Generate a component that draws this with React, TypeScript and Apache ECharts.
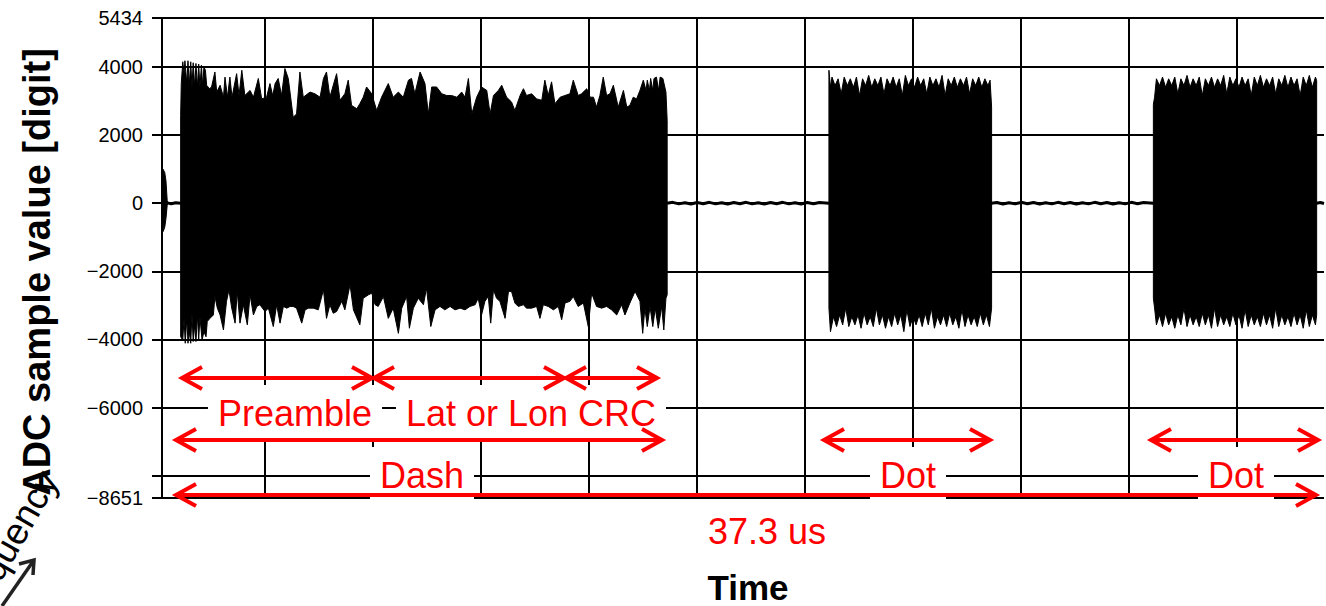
import React, { useEffect, useRef } from 'react';
import * as echarts from 'echarts';

type Pt = [number, number];

// ---- axis ticks (µs for x, ADC digits for y) ----
const yTickValues = [5434, 4000, 2000, 0, -2000, -4000, -6000, -8000, -8651];
const yLabelValues = [5434, 4000, 2000, 0, -2000, -4000, -6000, -8651];
const xGridValues = [0, 3.37, 6.9, 10.43, 13.96, 17.49, 21.02, 24.55, 28.08, 31.61, 35.14];
const xMin = 0;
const xMax = 38;
const yMin = -8651;
const yMax = 5434;

// ---- waveform envelopes [time µs, value] ----
const blipTop: Pt[] = [[0.02, 0], [0.03, 1000], [0.09, 900], [0.13, 650], [0.17, 80], [0.2, 0]];
const blipBottom: Pt[] = [[0.02, 0], [0.04, -830], [0.09, -700], [0.13, -450], [0.17, -60], [0.2, 0]];

const burst1Top: Pt[] = [
  [0.61, 0], [0.61, 2570], [0.63, 3510], [0.68, 4150], [0.72, 3800], [0.75, 4180], [0.81, 3510], [0.85, 4180],
  [0.89, 3460], [0.94, 4150], [0.98, 3410], [1.02, 4120], [1.07, 3410], [1.11, 4100], [1.16, 3410], [1.2, 4080],
  [1.24, 3410], [1.29, 4050], [1.33, 3410], [1.37, 4000], [1.42, 3900], [1.46, 3460], [1.55, 3360], [1.62, 3410],
  [1.73, 3850], [1.79, 3260], [1.9, 3460], [2.01, 3110], [2.06, 3700], [2.14, 3110], [2.22, 3700], [2.29, 3110],
  [2.44, 3800], [2.52, 3160], [2.61, 3900], [2.71, 3160], [2.88, 3310], [2.99, 3110], [3.15, 3660], [3.26, 3060],
  [3.42, 3110], [3.53, 3510], [3.62, 3160], [3.7, 3510], [3.8, 3660], [3.91, 3160], [4.02, 3950], [4.13, 3660],
  [4.29, 2520], [4.4, 2620], [4.51, 3850], [4.62, 3110], [4.84, 3260], [5.0, 3210], [5.17, 3110], [5.28, 3660],
  [5.38, 3850], [5.49, 3110], [5.6, 3460], [5.71, 3800], [5.82, 3020], [5.98, 3210], [6.09, 3610], [6.2, 2870],
  [6.37, 2770], [6.47, 2920], [6.58, 3110], [6.69, 3410], [6.86, 3210], [7.02, 2720], [7.18, 3110], [7.4, 3510],
  [7.56, 3110], [7.73, 3260], [7.89, 3110], [8.06, 3610], [8.16, 3660], [8.27, 3210], [8.44, 3850], [8.6, 3510],
  [8.71, 2620], [8.82, 3410], [8.98, 3410], [9.15, 3210], [9.31, 3160], [9.47, 3160], [9.64, 3110], [9.8, 3260],
  [9.91, 3110], [10.02, 3660], [10.13, 2620], [10.29, 3110], [10.45, 3410], [10.62, 3310], [10.73, 2620], [10.84, 3160],
  [11.0, 3310], [11.11, 3460], [11.27, 3110], [11.43, 2970], [11.54, 2720], [11.71, 3160], [11.82, 3360], [11.92, 3160],
  [12.09, 3210], [12.25, 3060], [12.42, 3020], [12.52, 3610], [12.63, 3160], [12.74, 3560], [12.85, 2920], [13.02, 3110],
  [13.18, 3160], [13.34, 3210], [13.45, 3610], [13.61, 3160], [13.72, 3210], [13.89, 3360], [14.0, 3110], [14.11, 3110],
  [14.21, 2820], [14.32, 3160], [14.43, 3700], [14.54, 3160], [14.65, 3210], [14.76, 3460], [14.92, 2820], [15.09, 3310],
  [15.2, 2820], [15.3, 2870], [15.41, 3110], [15.52, 3060], [15.63, 3310], [15.74, 3610], [15.83, 3310], [15.87, 3610],
  [15.94, 3310], [15.98, 3660], [16.05, 3310], [16.09, 3660], [16.17, 3700], [16.24, 3310], [16.29, 3700], [16.38, 3660],
  [16.48, 3260], [16.52, 2430], [16.52, 0],
];

const burst1Bottom: Pt[] = [
  [0.61, 0], [0.61, -3920], [0.68, -4020], [0.72, -3380], [0.76, -4110], [0.81, -3380], [0.85, -4110], [0.89, -3770],
  [0.94, -4110], [0.98, -3230], [1.02, -4060], [1.07, -3570], [1.11, -4060], [1.16, -3280], [1.2, -4020], [1.24, -3330],
  [1.31, -4020], [1.37, -3770], [1.44, -3920], [1.48, -3470], [1.57, -3380], [1.68, -3280], [1.73, -2740], [1.81, -3080],
  [1.9, -3280], [2.01, -3720], [2.11, -2880], [2.19, -2540], [2.28, -3080], [2.39, -3520], [2.46, -2590], [2.55, -3520],
  [2.66, -2980], [2.79, -3570], [2.88, -2690], [2.99, -3280], [3.1, -3030], [3.2, -2980], [3.37, -3180], [3.48, -3080],
  [3.64, -3620], [3.75, -2980], [3.86, -3520], [3.97, -3030], [4.08, -3080], [4.19, -3030], [4.29, -3030], [4.4, -3080],
  [4.57, -3520], [4.68, -3130], [4.79, -3080], [4.95, -3080], [5.11, -3130], [5.28, -2540], [5.38, -3380], [5.49, -2980],
  [5.6, -3230], [5.71, -3180], [5.88, -2880], [5.98, -3130], [6.15, -2390], [6.26, -3130], [6.47, -3570], [6.58, -2790],
  [6.75, -2690], [6.86, -2640], [6.97, -2980], [7.07, -3030], [7.24, -2740], [7.4, -3380], [7.56, -3080], [7.73, -3820],
  [7.84, -3080], [8.0, -2740], [8.09, -3670], [8.22, -3080], [8.38, -2790], [8.55, -2980], [8.65, -2490], [8.79, -3620],
  [8.93, -3130], [9.09, -3030], [9.25, -3130], [9.42, -3030], [9.58, -3130], [9.75, -3080], [9.91, -3130], [10.07, -3030],
  [10.24, -2980], [10.34, -2790], [10.45, -3280], [10.56, -2880], [10.67, -2740], [10.75, -3520], [10.84, -2540], [10.94, -2790],
  [11.05, -2880], [11.22, -3380], [11.33, -2590], [11.43, -2590], [11.54, -2930], [11.65, -3030], [11.82, -2980], [11.92, -3080],
  [12.09, -3080], [12.25, -3030], [12.36, -3380], [12.47, -2980], [12.63, -3030], [12.8, -3130], [12.96, -3030], [13.07, -3420],
  [13.18, -2930], [13.34, -2880], [13.45, -2740], [13.61, -3030], [13.78, -2930], [13.94, -3620], [14.05, -2640], [14.21, -3030],
  [14.38, -3080], [14.54, -3030], [14.7, -3130], [14.87, -3280], [15.03, -2980], [15.14, -3280], [15.3, -2930], [15.47, -2590],
  [15.63, -2880], [15.72, -3820], [15.79, -3080], [15.87, -3620], [15.96, -3030], [16.05, -3620], [16.13, -3080], [16.23, -3670],
  [16.34, -3030], [16.41, -3720], [16.48, -2790], [16.52, -2690], [16.52, 0],
];

const burst2Top: Pt[] = [
  [21.81, 0], [21.81, 3900], [21.86, 3400], [21.91, 3700], [22.01, 3450], [22.11, 3650], [22.21, 3210], [22.31, 3700],
  [22.41, 3450], [22.51, 3650], [22.61, 3400], [22.71, 3700], [22.81, 3160], [22.91, 3650], [23.01, 3450], [23.11, 3750],
  [23.21, 3400], [23.31, 3650], [23.41, 3450], [23.51, 3700], [23.61, 3210], [23.71, 3650], [23.81, 3450], [23.91, 3700],
  [24.01, 3400], [24.11, 3650], [24.21, 3160], [24.31, 3750], [24.41, 3450], [24.51, 3650], [24.61, 3400], [24.71, 3700],
  [24.81, 3450], [24.91, 3650], [25.01, 3210], [25.11, 3700], [25.21, 3450], [25.31, 3650], [25.41, 3400], [25.51, 3750],
  [25.61, 3160], [25.71, 3650], [25.81, 3450], [25.91, 3700], [26.01, 3400], [26.11, 3650], [26.21, 3450], [26.31, 3700],
  [26.41, 3210], [26.51, 3650], [26.61, 3450], [26.71, 3700], [26.81, 3400], [26.91, 3650], [27.01, 3450], [27.08, 3610],
  [27.13, 2820], [27.13, 0],
];

const burst2Bottom: Pt[] = [
  [21.81, 0], [21.81, -3080], [21.86, -3770], [21.96, -3330], [22.06, -3620], [22.16, -3280], [22.26, -3570], [22.36, -3080],
  [22.46, -3620], [22.56, -3330], [22.66, -3570], [22.76, -3280], [22.86, -3670], [22.96, -3230], [23.06, -3570], [23.16, -3330],
  [23.26, -3620], [23.36, -3080], [23.46, -3570], [23.56, -3280], [23.66, -3670], [23.76, -3330], [23.86, -3620], [23.96, -3230],
  [24.06, -3570], [24.16, -3280], [24.26, -3770], [24.36, -3130], [24.46, -3620], [24.56, -3330], [24.66, -3570], [24.76, -3280],
  [24.86, -3620], [24.96, -3230], [25.06, -3570], [25.16, -3080], [25.26, -3670], [25.36, -3330], [25.46, -3570], [25.56, -3280],
  [25.66, -3620], [25.76, -3230], [25.86, -3570], [25.96, -3330], [26.06, -3670], [26.16, -3130], [26.26, -3620], [26.36, -3280],
  [26.46, -3570], [26.56, -3330], [26.66, -3620], [26.76, -3230], [26.86, -3570], [26.96, -3280], [27.06, -3620], [27.13, -3080],
  [27.13, 0],
];

const burst3Top: Pt[] = [
  [32.42, 0], [32.42, 2900], [32.46, 3110], [32.52, 3650], [32.62, 3450], [32.72, 3700], [32.82, 3400], [32.92, 3650],
  [33.02, 3450], [33.12, 3700], [33.22, 3210], [33.32, 3650], [33.42, 3450], [33.52, 3750], [33.62, 3400], [33.72, 3650],
  [33.82, 3450], [33.92, 3700], [34.02, 3160], [34.12, 3650], [34.22, 3450], [34.32, 3700], [34.42, 3400], [34.52, 3650],
  [34.62, 3450], [34.72, 3750], [34.82, 3210], [34.92, 3700], [35.02, 3450], [35.12, 3650], [35.22, 3400], [35.32, 3700],
  [35.42, 3450], [35.52, 3650], [35.62, 3160], [35.72, 3700], [35.82, 3450], [35.92, 3750], [36.02, 3400], [36.12, 3650],
  [36.22, 3450], [36.32, 3700], [36.42, 3210], [36.52, 3650], [36.62, 3450], [36.72, 3750], [36.82, 3400], [36.92, 3700],
  [37.02, 3450], [37.12, 3650], [37.22, 3160], [37.32, 3700], [37.42, 3450], [37.52, 3750], [37.62, 3400], [37.72, 3700],
  [37.76, 3600], [37.76, 0],
];

const burst3Bottom: Pt[] = [
  [32.42, 0], [32.42, -2790], [32.46, -3080], [32.52, -3570], [32.62, -3280], [32.72, -3620], [32.82, -3230], [32.92, -3570],
  [33.02, -3330], [33.12, -3670], [33.22, -3280], [33.32, -3570], [33.42, -3080], [33.52, -3620], [33.62, -3280], [33.72, -3570],
  [33.82, -3330], [33.92, -3620], [34.02, -3230], [34.12, -3570], [34.22, -3280], [34.32, -3670], [34.42, -3080], [34.52, -3620],
  [34.62, -3280], [34.72, -3570], [34.82, -3330], [34.92, -3620], [35.02, -3230], [35.12, -3570], [35.22, -3280], [35.32, -3670],
  [35.42, -3130], [35.52, -3620], [35.62, -3280], [35.72, -3570], [35.82, -3330], [35.92, -3620], [36.02, -3230], [36.12, -3570],
  [36.22, -3280], [36.32, -3670], [36.42, -3080], [36.52, -3620], [36.62, -3280], [36.72, -3570], [36.82, -3330], [36.92, -3620],
  [37.02, -3230], [37.12, -3570], [37.22, -3280], [37.32, -3670], [37.42, -3130], [37.52, -3620], [37.62, -3280], [37.72, -3570],
  [37.76, -3280], [37.76, 0],
];

// baseline noise between bursts
const noise1: Pt[] = [[0.17, 10], [0.3, -15], [0.45, 15], [0.61, 0]];
const noise2: Pt[] = [
  [16.52, 0], [16.7, 25], [16.9, -20], [17.1, 15], [17.3, -25], [17.5, 20], [17.7, -15], [17.9, 25], [18.1, -20],
  [18.3, 15], [18.5, -25], [18.7, 20], [18.9, -15], [19.1, 25], [19.3, -20], [19.5, 15], [19.7, -25], [19.9, 20],
  [20.1, -15], [20.3, 25], [20.5, -20], [20.7, 15], [20.9, -25], [21.1, 20], [21.3, -15], [21.5, 20], [21.81, 0],
];
const noise3: Pt[] = [
  [27.13, 0], [27.3, 20], [27.5, -25], [27.7, 15], [27.9, -20], [28.1, 25], [28.3, -15], [28.5, 20], [28.7, -25],
  [28.9, 15], [29.1, -20], [29.3, 25], [29.5, -15], [29.7, 20], [29.9, -25], [30.1, 15], [30.3, -20], [30.5, 25],
  [30.7, -15], [30.9, 20], [31.1, -25], [31.3, 15], [31.5, -20], [31.7, 25], [31.9, -15], [32.1, 20], [32.42, 0],
];
const noise4: Pt[] = [[37.76, 0], [37.88, 20], [38, -10]];

// annotation labels
const segLabels = ['Preamble', 'Lat or Lon', 'CRC'];
const frameLabels = ['Dash', 'Dot', 'Dot'];
const spanLabel = '37.3 us';
const xTitle = 'Time';
const yTitle = 'ADC sample value [digit]';
const sideTitle = 'Frequency';

const RED = '#ff0000';
const SANS = '"Liberation Sans", Arial, Helvetica, sans-serif';

function hArrow(x1: number, x2: number, y: number): any[] {
  const st = { stroke: RED, lineWidth: 4, fill: 'none', lineJoin: 'miter' };
  return [
    { type: 'line', z: 110, shape: { x1: x1 + 2, y1: y, x2: x2 - 2, y2: y }, style: { stroke: RED, lineWidth: 4 } },
    { type: 'polyline', z: 110, shape: { points: [[x1 + 20, y - 11], [x1, y], [x1 + 20, y + 11]] }, style: st },
    { type: 'polyline', z: 110, shape: { points: [[x2 - 20, y - 11], [x2, y], [x2 - 20, y + 11]] }, style: st },
  ];
}

function boxText(text: string, x: number, y: number): any {
  return {
    type: 'text',
    z: 100,
    x,
    y,
    style: {
      text,
      fill: RED,
      font: `36px ${SANS}`,
      align: 'center',
      verticalAlign: 'middle',
      backgroundColor: '#ffffff',
      padding: [10, 10],
    },
  };
}

export default function App() {
  const ref = useRef<HTMLDivElement>(null);

  useEffect(() => {
    if (!ref.current) return;
    const chart = echarts.init(ref.current, null, { renderer: 'svg' });

    const envelopes = [blipTop, blipBottom, burst1Top, burst1Bottom, burst2Top, burst2Bottom, burst3Top, burst3Bottom];
    const noises = [noise1, noise2, noise3, noise4];

    const series: any[] = [
      ...envelopes.map((d) => ({
        type: 'line',
        data: d,
        symbol: 'none',
        silent: true,
        z: 3,
        lineStyle: { color: '#000', width: 1 },
        areaStyle: { color: '#000', opacity: 1 },
      })),
      ...noises.map((d) => ({
        type: 'line',
        data: d,
        symbol: 'none',
        silent: true,
        z: 3,
        lineStyle: { color: '#000', width: 3 },
      })),
    ];

    const graphics: any[] = [
      boxText(segLabels[0], 295, 413),
      boxText(segLabels[1], 487, 413),
      boxText(segLabels[2], 617, 413),
      boxText(frameLabels[0], 422, 475),
      boxText(frameLabels[1], 908, 475),
      boxText(frameLabels[2], 1236, 475),
      boxText(spanLabel, 767, 531),
      ...hArrow(182, 372, 378),
      ...hArrow(374, 564, 378),
      ...hArrow(566, 657, 378),
      ...hArrow(176, 662, 440),
      ...hArrow(824, 990, 440),
      ...hArrow(1151, 1318, 440),
      ...hArrow(176, 1316, 495),
      {
        type: 'text',
        z: 100,
        x: 748,
        y: 587,
        style: { text: xTitle, fill: '#000', font: `bold 35px ${SANS}`, align: 'center', verticalAlign: 'middle' },
      },
      {
        type: 'text',
        z: 100,
        x: 37,
        y: 272,
        rotation: Math.PI / 2,
        style: { text: yTitle, fill: '#000', font: `bold 38px ${SANS}`, align: 'center', verticalAlign: 'middle' },
      },
      {
        type: 'text',
        z: 99,
        x: 49,
        y: 474,
        rotation: (60 * Math.PI) / 180,
        style: { text: sideTitle, fill: '#000', font: `37px ${SANS}`, align: 'right', verticalAlign: 'middle' },
      },
      {
        type: 'polyline',
        z: 99,
        shape: { points: [[2, 606], [34, 560]] },
        style: { stroke: '#222', lineWidth: 3.5, fill: 'none' },
      },
      {
        type: 'polyline',
        z: 99,
        shape: { points: [[19, 564], [34, 560], [33, 575]] },
        style: { stroke: '#222', lineWidth: 3.5, fill: 'none' },
      },
    ];

    const option: any = {
      animation: false,
      backgroundColor: '#ffffff',
      grid: { left: 162, right: 2, top: 18, bottom: 108, show: false },
      xAxis: {
        type: 'value',
        min: xMin,
        max: xMax,
        offset: 3,
        axisLine: { show: false },
        axisTick: { show: true, length: 7, lineStyle: { color: '#000', width: 2 }, customValues: xGridValues },
        axisLabel: { show: false },
        splitLine: { show: true, lineStyle: { color: '#000', width: 2 } },
      },
      yAxis: {
        type: 'value',
        min: yMin,
        max: yMax,
        offset: 4,
        axisLine: { show: false },
        axisTick: { show: true, length: 10, lineStyle: { color: '#000', width: 2 }, customValues: yTickValues },
        axisLabel: {
          customValues: yLabelValues,
          margin: 15,
          color: '#000',
          fontSize: 20,
          fontFamily: SANS,
          formatter: (v: number) => String(v).replace('-', '\u2212'),
        },
        splitLine: { show: true, lineStyle: { color: '#000', width: 2 } },
      },
      series,
      graphic: { elements: graphics },
    };

    chart.setOption(option);
    return () => chart.dispose();
  }, []);

  return (
    <div
      ref={ref}
      style={{ position: 'fixed', left: 0, top: 0, width: 1326, height: 606, background: '#fff' }}
    />
  );
}
